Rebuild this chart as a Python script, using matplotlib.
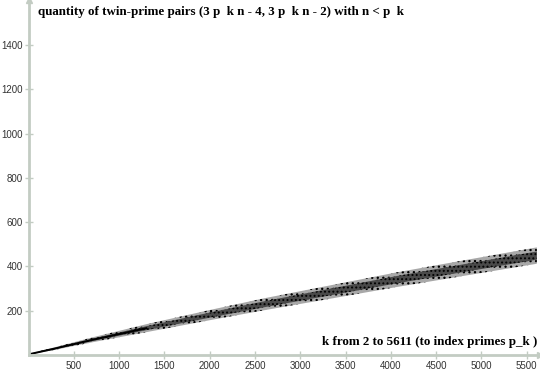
import matplotlib
matplotlib.use("Agg")
import matplotlib.pyplot as plt
import numpy as np

# ---- data (band of the twin-prime-pair counts) ----
k_knots = [2, 300, 700, 1300, 2000, 2600, 3300, 4050, 4800, 5611]
band_center = [3, 30, 68, 121, 180, 229, 282, 339, 392, 449]
band_halfwidth = [2, 6, 11, 18, 23, 27, 30, 33, 35, 37]

x_ticks = [500, 1000, 1500, 2000, 2500, 3000, 3500, 4000, 4500, 5000, 5500]
y_ticks = [200, 400, 600, 800, 1000, 1200, 1400]

title_text = "quantity of twin-prime pairs (3 p  k n - 4, 3 p  k n - 2) with n < p  k"
xlabel_text = "k from 2 to 5611 (to index primes p_k )"

axis_color = "#c3ccc3"
W, H = 540, 372

plt.rcParams['hatch.linewidth'] = 0.9
fig = plt.figure(figsize=(W / 100, H / 100), dpi=100)
ax = fig.add_axes([28.5 / W, 17 / H, 1 - 28.5 / W, 1 - 17 / H])
ax.set_xlim(0, 5646)
ax.set_ylim(0, 1603)

kc = np.array(k_knots, float)
c = np.array(band_center, float)
h = np.array(band_halfwidth, float)

# outer sparse stipple
ax.fill_between(kc, c - h, c + h, facecolor="#a8a8a8", edgecolor="black",
                hatch="...", linewidth=0)
# denser core
ax.fill_between(kc, c - 0.5 * h, c + 0.5 * h, facecolor="#4a4a4a", edgecolor="black",
                hatch="....", linewidth=0)
# thin dense line near origin
ax.plot(kc[:4], c[:4], color="black", lw=1.4)

for s in ["top", "right"]:
    ax.spines[s].set_visible(False)
for s in ["left", "bottom"]:
    ax.spines[s].set_color(axis_color)
    ax.spines[s].set_linewidth(2)

ax.set_xticks(x_ticks)
ax.set_yticks(y_ticks)
ax.set_xticklabels([str(v) for v in x_ticks])
ax.set_yticklabels([str(v) for v in y_ticks])
ax.tick_params(direction="inout", length=6, width=1, color=axis_color,
               labelsize=7, labelcolor="#333333", pad=1)
for lab in ax.get_xticklabels() + ax.get_yticklabels():
    lab.set_family(["Liberation Sans", "DejaVu Sans"])

# arrow heads at the axis ends
ax.plot(0, 1, marker="^", ms=5, color=axis_color, transform=ax.transAxes, clip_on=False)
ax.plot(1, 0, marker=">", ms=5, color=axis_color, transform=ax.transAxes, clip_on=False)

fig.text(38 / W, 1 - 12 / H, title_text, ha="left", va="center", fontsize=9.4,
         fontweight="bold", family=["Liberation Serif", "DejaVu Serif"])
fig.text(537 / W, 1 - 342 / H, xlabel_text, ha="right", va="center", fontsize=9.4,
         fontweight="bold", family=["Liberation Serif", "DejaVu Serif"])

fig.savefig("out.png", dpi=100)
